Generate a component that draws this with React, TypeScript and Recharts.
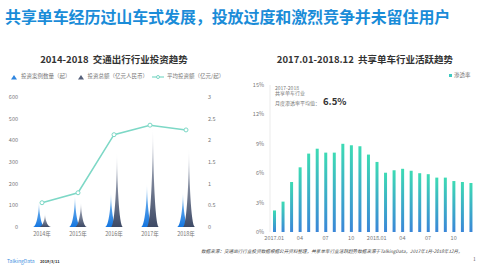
import React from 'react';
import {
  ComposedChart,
  BarChart,
  Bar,
  Line,
  XAxis,
  YAxis,
} from 'recharts';

const years = ['2014年', '2015年', '2016年', '2017年', '2018年'];
const dealCounts = [115, 145, 160, 200, 160];
const dealAmounts = [60, 115, 345, 457, 362];
const avgAmounts = [0.56, 0.79, 2.13, 2.35, 2.24];

const months = [
  '2017.01', '2017.02', '2017.03', '2017.04', '2017.05', '2017.06',
  '2017.07', '2017.08', '2017.09', '2017.10', '2017.11', '2017.12',
  '2018.01', '2018.02', '2018.03', '2018.04', '2018.05', '2018.06',
  '2018.07', '2018.08', '2018.09', '2018.10', '2018.11', '2018.12',
];
const penetration = [
  2.2, 3.1, 5.1, 6.6, 8.0, 8.5, 8.1, 8.1, 9.0, 8.85, 8.75, 7.9,
  7.15, 6.05, 6.3, 6.45, 6.25, 6.0, 5.9, 5.55, 5.55, 5.2, 5.1, 5.0,
];

const investData = years.map((y, i) => ({
  year: y,
  count: dealCounts[i],
  amount: dealAmounts[i],
  avg: avgAmounts[i],
}));
const activeData = months.map((m, i) => ({ month: m, rate: penetration[i] }));

const FONT = '"Noto Sans CJK SC", "Noto Sans", sans-serif';
const tickStyle = { fontSize: 5.5, fill: '#777', fontFamily: FONT };

const spikePath = (x: number, y: number, w: number, h: number) =>
  `M${x},${y + h}C${x + w / 3},${y + h} ${x + w / 2},${y + h / 3} ${x + w / 2},${y}` +
  `C${x + w / 2},${y + h / 3} ${x + (2 * w) / 3},${y + h} ${x + w},${y + h}Z`;

const Spike = (props: any) => {
  const { x, y, width, height, fill } = props;
  if (!height) return null;
  return <path d={spikePath(x, y, width, height)} fill={fill} />;
};

const monthLabel = (m: string) => (m.endsWith('.01') ? m : m.slice(5));

const abs = (left: number, top: number, extra: React.CSSProperties = {}): React.CSSProperties => ({
  position: 'absolute',
  left,
  top,
  whiteSpace: 'nowrap',
  fontFamily: FONT,
  lineHeight: 1,
  ...extra,
});

export default function App() {
  return (
    <div
      style={{
        position: 'absolute',
        left: 0,
        top: 0,
        width: 477,
        height: 266,
        background: '#fff',
        overflow: 'hidden',
        fontFamily: FONT,
      }}
    >
      <div style={abs(5, 8, { fontSize: 16, fontWeight: 700, color: '#1a8cd8', letterSpacing: -0.1 })}>
        共享单车经历过山车式发展，投放过度和激烈竞争并未留住用户
      </div>

      {/* left chart */}
      <div style={abs(0, 55, { width: 228, textAlign: 'center', fontSize: 9.5, fontWeight: 700, color: '#333' })}>
        2014-2018&nbsp;&nbsp;交通出行行业投资趋势
      </div>
      <div style={abs(10, 74, { fontSize: 5.5, color: '#777', display: 'flex', alignItems: 'center' })}>
        <svg width={8} height={6}><path d="M1,5.5 L4,1 L7,5.5Z" fill="#2f86e0" /></svg>
        <span style={{ marginLeft: 3 }}>投资案例数量（起）</span>
        <svg width={8} height={6} style={{ marginLeft: 6 }}><path d="M1,5.5 L4,1 L7,5.5Z" fill="#56607a" /></svg>
        <span style={{ marginLeft: 3 }}>投资总额（亿元人民币）</span>
        <svg width={12} height={6} style={{ marginLeft: 4 }}>
          <line x1={0} y1={3} x2={12} y2={3} stroke="#7dd8c6" strokeWidth={1.2} />
          <circle cx={6} cy={3} r={1.5} fill="#fff" stroke="#7dd8c6" strokeWidth={1} />
        </svg>
        <span style={{ marginLeft: 3 }}>平均投资额（亿元/起）</span>
      </div>
      <div style={{ position: 'absolute', left: 0, top: 85 }}>
        <ComposedChart
          width={230}
          height={160}
          data={investData}
          margin={{ top: 12, right: 0, left: 0, bottom: 0 }}
          barSize={12}
          barGap={-6}
        >
          <defs>
            <linearGradient id="gBlue" x1="0" y1="0" x2="0" y2="1">
              <stop offset="0%" stopColor="#8cc4f2" />
              <stop offset="100%" stopColor="#1576e0" />
            </linearGradient>
            <linearGradient id="gGray" x1="0" y1="0" x2="0" y2="1">
              <stop offset="0%" stopColor="#c3c8d4" />
              <stop offset="100%" stopColor="#3e4a66" />
            </linearGradient>
          </defs>
          <XAxis
            dataKey="year"
            axisLine={false}
            tickLine={false}
            tickSize={0}
            tick={tickStyle}
            tickMargin={5}
            height={18}
          />
          <YAxis
            yAxisId="l"
            domain={[0, 600]}
            ticks={[0, 100, 200, 300, 400, 500, 600]}
            axisLine={false}
            tickLine={false}
            tickSize={0}
            tick={tickStyle}
            tickMargin={6}
            width={24}
          />
          <YAxis
            yAxisId="r"
            orientation="right"
            domain={[0, 3]}
            ticks={[0, 0.5, 1, 1.5, 2, 2.5, 3]}
            axisLine={false}
            tickLine={false}
            tickSize={0}
            tick={tickStyle}
            tickMargin={4}
            width={26}
          />
          <Bar yAxisId="l" dataKey="count" fill="url(#gBlue)" shape={Spike} isAnimationActive={false} />
          <Bar yAxisId="l" dataKey="amount" fill="url(#gGray)" shape={Spike} isAnimationActive={false} />
          <Line
            yAxisId="r"
            dataKey="avg"
            stroke="#7dd8c6"
            strokeWidth={1.5}
            dot={{ r: 2, fill: '#fff', stroke: '#7dd8c6', strokeWidth: 1 }}
            isAnimationActive={false}
          />
        </ComposedChart>
      </div>

      {/* right chart */}
      <div style={abs(240, 55, { width: 250, textAlign: 'center', fontSize: 9.5, fontWeight: 700, color: '#333' })}>
        2017.01-2018.12&nbsp;&nbsp;共享单车行业活跃趋势
      </div>
      <div style={abs(449, 73, { fontSize: 5.5, color: '#777', display: 'flex', alignItems: 'center' })}>
        <span style={{ width: 3, height: 3, background: '#3dc9c0', display: 'inline-block', marginRight: 2 }} />
        渗透率
      </div>
      <div style={{ position: 'absolute', left: 240, top: 75 }}>
        <BarChart
          width={237}
          height={175}
          data={activeData}
          margin={{ top: 10, right: 2, left: 0, bottom: 0 }}
          barSize={3}
        >
          <defs>
            <linearGradient id="gTeal" x1="0" y1="0" x2="0" y2="1">
              <stop offset="0%" stopColor="#3ddbb4" />
              <stop offset="100%" stopColor="#3a86d8" />
            </linearGradient>
          </defs>
          <XAxis
            dataKey="month"
            axisLine={false}
            tickLine={false}
            tickSize={0}
            tick={tickStyle}
            tickMargin={4}
            interval={2}
            tickFormatter={monthLabel}
            height={18}
          />
          <YAxis
            domain={[0, 15]}
            ticks={[0, 3, 6, 9, 12, 15]}
            tickFormatter={(v: number) => `${v}%`}
            axisLine={{ stroke: '#ddd', strokeWidth: 0.6 }}
            tickLine={false}
            tickSize={0}
            tick={tickStyle}
            tickMargin={6}
            width={30}
          />
          <Bar dataKey="rate" fill="url(#gTeal)" isAnimationActive={false} />
        </BarChart>
      </div>
      <div style={abs(275, 84.5, { fontSize: 5, color: '#777' })}>2017-2018</div>
      <div style={abs(275, 90, { fontSize: 5, color: '#777' })}>共享单车行业</div>
      <div style={abs(275, 97, { fontSize: 5, color: '#777', display: 'flex', alignItems: 'baseline' })}>
        月度渗透率平均值：
        <span style={{ fontSize: 9.5, fontWeight: 700, color: '#333', marginLeft: 3 }}>6.5%</span>
      </div>

      {/* footer */}
      <div style={abs(201, 249, { fontSize: 4.6, color: '#444', fontStyle: 'italic' })}>
        数据来源：交通出行行业投资数据根据公开资料整理，共享单车行业活跃趋势数据来源于TalkingData，2017年1月-2018年12月。
      </div>
      <div style={abs(7, 258, { fontSize: 5, color: '#3a8ee0' })}>TalkingData</div>
      <div style={abs(40, 258.5, { fontSize: 4, color: '#333', fontWeight: 700 })}>2019/3/11</div>
      <div style={abs(473, 256, { fontSize: 5, color: '#666' })}>1</div>
    </div>
  );
}
